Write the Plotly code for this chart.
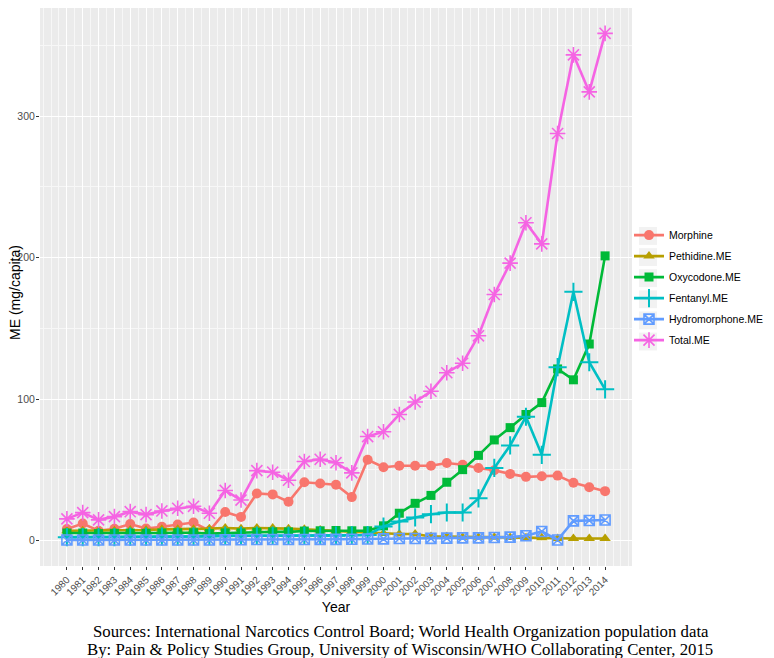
import plotly.graph_objects as go

years = list(range(1980, 2015))

morphine = [8.2, 12.1, 7.0, 8.4, 11.7, 8.6, 9.8, 11.4, 12.8, 7.0,
            20.3, 16.8, 33.4, 32.7, 27.5, 41.3, 40.4, 39.5, 30.8, 57.2,
            51.9, 53.0, 53.0, 53.0, 54.9, 53.7, 51.4, 49.8, 47.2, 45.1,
            45.5, 46.0, 40.9, 37.8, 35.0]
pethidine = [7.0, 7.0, 7.0, 7.0, 7.5, 7.5, 8.0, 8.0, 8.0, 8.5,
             9.0, 8.5, 9.0, 9.0, 8.5, 8.0, 7.5, 7.0, 6.5, 6.0,
             5.0, 4.7, 4.7, 3.0, 3.0, 2.5, 2.5, 2.5, 2.2, 2.0,
             2.0, 1.5, 1.5, 1.5, 1.5]
oxycodone = [5.4, 5.4, 5.0, 5.2, 5.4, 5.2, 5.4, 5.6, 5.6, 5.0,
             5.5, 5.5, 6.0, 6.2, 6.2, 6.8, 7.0, 7.2, 7.0, 7.0,
             10.5, 19.4, 26.4, 32.0, 41.3, 50.2, 60.3, 71.2, 79.9, 89.2,
             97.6, 121.4, 113.7, 139.0, 201.3]
fentanyl = [2.5, 2.5, 2.5, 2.5, 2.8, 2.8, 3.0, 3.0, 3.0, 3.2,
            3.5, 3.5, 3.5, 3.5, 3.5, 3.5, 3.5, 3.5, 3.8, 4.0,
            10.0, 13.5, 16.4, 18.7, 19.9, 19.9, 29.9, 51.4, 67.3, 87.6,
            60.7, 122.6, 175.9, 126.1, 107.0]
hydromorphone = [0.5, 0.5, 0.5, 0.5, 0.5, 0.5, 0.5, 0.5, 0.5, 0.5,
                 0.7, 0.7, 0.8, 0.8, 0.8, 0.8, 0.9, 0.9, 1.0, 1.2,
                 1.3, 1.5, 1.5, 1.6, 1.8, 2.0, 2.0, 2.2, 2.5, 3.5,
                 6.5, 0.5, 14.0, 14.3, 14.6]
total = [15.4, 19.8, 14.7, 17.0, 20.5, 18.4, 21.0, 22.9, 24.3, 19.4,
         35.5, 28.7, 49.5, 48.4, 42.7, 56.0, 57.5, 55.1, 47.9, 73.6,
         77.0, 89.2, 98.0, 105.6, 118.7, 125.4, 144.8, 174.0, 196.2, 224.7,
         209.8, 287.8, 343.4, 317.2, 358.6]

series = [
    ("Morphine", morphine, "#F8766D", "circle", 10, 0),
    ("Pethidine.ME", pethidine, "#B79F00", "triangle-up", 10, 0),
    ("Oxycodone.ME", oxycodone, "#00BA38", "square", 9, 0),
    ("Fentanyl.ME", fentanyl, "#00BFC4", "cross-thin-open", 13, 2),
    ("Hydromorphone.ME", hydromorphone, "#619CFF", "square-x-open", 10, 1.6),
    ("Total.ME", total, "#F564E3", "asterisk-open", 13, 1.6),
]

fig = go.Figure()
for name, vals, col, sym, sz, lw in series:
    fig.add_trace(go.Scatter(
        x=years, y=vals, name=name, mode="lines+markers",
        line=dict(color=col, width=2.6),
        marker=dict(symbol=sym, size=sz, color=col,
                    line=dict(color=col, width=lw)),
        legendgroup=name,
    ))

# page body has an 8px margin: work in page pixels, shift by O
O = 8
W, H = 774 - O, 658 - O
# panel geometry in page pixels
PL, PR, PT, PB = 40, 632, 3, 566
PW, PH = PR - PL, PB - PT

def px_x(x):
    return (x - PL) / PW

def px_y(y):
    return 1 - (y - PT) / PH

axis_font = dict(family="Liberation Sans, Arial, sans-serif", size=10.5, color="#4D4D4D")

fig.update_layout(
    width=W, height=H,
    margin=dict(l=PL - O, r=774 - PR, t=max(PT - O, 0), b=658 - PB, autoexpand=False),
    paper_bgcolor="white",
    plot_bgcolor="#EBEBEB",
    font=dict(family="Liberation Sans, Arial, sans-serif", color="black"),
    showlegend=True,
    legend=dict(
        x=px_x(629), xanchor="left", y=px_y(217.5), yanchor="top",
        font=dict(size=10.5, color="black"),
        bgcolor="rgba(0,0,0,0)",
        tracegroupgap=2,
        itemwidth=30,
    ),
    xaxis=dict(
        range=[1978.3, 2015.7], automargin=False,
        tickmode="array", tickvals=years, ticktext=[str(y) for y in years],
        tickangle=-45, tickfont=dict(family="Liberation Sans, Arial, sans-serif", size=10, color="#4D4D4D"),
        ticks="outside", ticklen=3, tickcolor="#333333",
        showgrid=True, gridcolor="white", gridwidth=1.1,
        minor=dict(dtick=0.5, tick0=1980.5, showgrid=True, gridcolor="#F7F7F7", gridwidth=0.5, ticks=""),
        zeroline=False, showline=False,
        title=dict(text="Year", font=dict(size=14, color="black"), standoff=5),
    ),
    yaxis=dict(
        range=[-17.9, 376.5], automargin=False,
        tickmode="array", tickvals=[0, 100, 200, 300],
        tickfont=axis_font, ticklabelstandoff=-1,
        ticks="outside", ticklen=3, tickcolor="#333333",
        showgrid=True, gridcolor="white", gridwidth=1.1,
        minor=dict(dtick=50, tick0=0, showgrid=True, gridcolor="#F7F7F7", gridwidth=0.5, ticks=""),
        zeroline=False, showline=False,
    ),
)

# y-axis title placed as text left of the tick labels
fig.add_annotation(
    text="ME (mg/capita)", textangle=-90,
    xref="paper", yref="paper", x=px_x(15.5), y=px_y(290), xanchor="center", yanchor="middle",
    showarrow=False, font=dict(size=14, color="black"),
)

# grey legend key backgrounds (ggplot style)
for i in range(len(series)):
    cy = 233 + 21.3 * i
    fig.add_shape(type="rect", xref="paper", yref="paper",
                  x0=px_x(639), x1=px_x(657), y0=px_y(cy + 9), y1=px_y(cy - 9),
                  fillcolor="#F2F2F2", line=dict(width=0), layer="below")

caption_font = dict(family="Liberation Serif, Times New Roman, serif", size=16.8, color="black")
fig.add_annotation(
    text="Sources: International Narcotics Control Board; World Health Organization population data",
    xref="paper", yref="paper", x=px_x(401), y=px_y(632), xanchor="center", yanchor="middle",
    showarrow=False, font=caption_font,
)
fig.add_annotation(
    text="By: Pain &amp; Policy Studies Group, University of Wisconsin/WHO Collaborating Center, 2015",
    xref="paper", yref="paper", x=px_x(400), y=px_y(650), xanchor="center", yanchor="middle",
    showarrow=False, font=caption_font,
)

fig.write_html("out.html")
